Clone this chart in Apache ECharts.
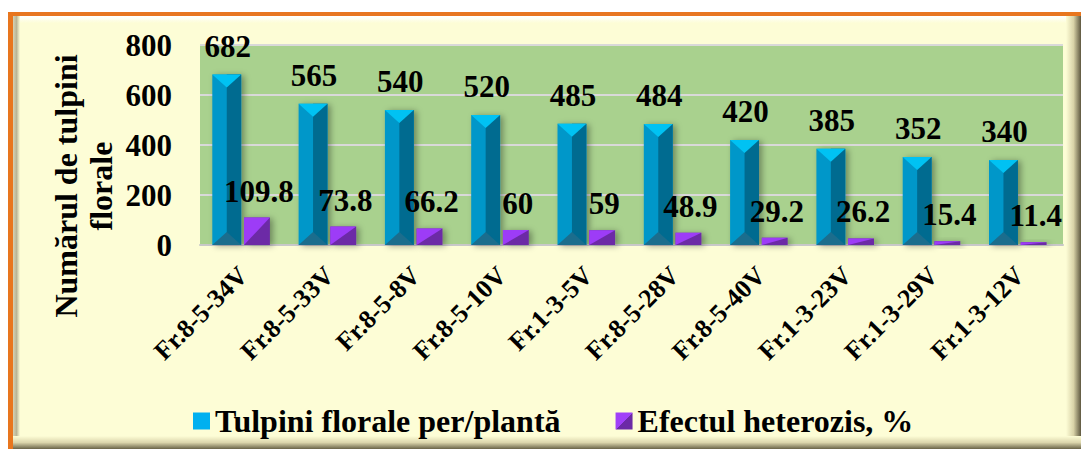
<!DOCTYPE html>
<html><head><meta charset="utf-8">
<script src="https://cdn.jsdelivr.net/npm/echarts@6/dist/echarts.min.js"></script>
<style>html,body{margin:0;padding:0;background:#fff}#c{width:1081px;height:449px}</style>
</head><body><div id="c"></div>
<script>
const categories = ['Fr.8-5-34V','Fr.8-5-33V','Fr.8-5-8V','Fr.8-5-10V','Fr.1-3-5V','Fr.8-5-28V','Fr.8-5-40V','Fr.1-3-23V','Fr.1-3-29V','Fr.1-3-12V'];
const tulpiniValues = [682,565,540,520,485,484,420,385,352,340];
const heterozisValues = [109.8,73.8,66.2,60,59,48.9,29.2,26.2,15.4,11.4];
const seriesNames = ['Tulpini florale per/plantă','Efectul heterozis, %'];
const yAxisTitle = 'Numărul de tulpini\nflorale';
const yMin = 0, yMax = 800, yStep = 200;

const FONT = '"Liberation Serif", "Times New Roman", serif';

function barItem(kind){
  return function(params, api){
    const idx = api.value(0), val = api.value(1);
    const top = api.coord([idx, val]);
    const base = api.coord([idx, 0]);
    const bw = api.size([1, 0])[0];
    let w, cx;
    if (kind === 'blue'){ w = bw*0.335; cx = top[0] - bw*0.19; }
    else { w = bw*0.30; cx = top[0] + bw*0.16; }
    const x0 = cx - w/2, x1 = cx + w/2, y0 = top[1], y1 = base[1];
    const h = y1 - y0;
    const children = [];
    if (kind === 'blue'){
      const tri = Math.min(w*0.45, h/2);
      children.push(
        {type:'rect', shape:{x:x0,y:y0,width:w,height:h}, style:{fill:'#0097c9', shadowBlur:6, shadowOffsetX:3, shadowOffsetY:1, shadowColor:'rgba(0,0,0,0.35)'}},
        {type:'rect', shape:{x:cx,y:y0,width:w/2,height:h}, style:{fill:'#006b90'}},
        {type:'polygon', shape:{points:[[x0,y0],[x1,y0],[cx,y0+tri]]}, style:{fill:'#00c2f3'}},
        {type:'polygon', shape:{points:[[x0,y1],[x1,y1],[cx,y1-tri]]}, style:{fill:'#1b6d8d'}},
        {type:'text', x: cx + 1, y: y0 - 13, style:{text:String(val), fill:'#000', font:'bold 31px ' + FONT, align:'center', verticalAlign:'bottom'}}
      );
    } else {
      children.push(
        {type:'rect', shape:{x:x0,y:y0,width:w,height:h}, style:{fill:'#6c2aa6', shadowBlur:6, shadowOffsetX:3, shadowOffsetY:1, shadowColor:'rgba(0,0,0,0.35)'}},
        {type:'polygon', shape:{points:[[x0,y0],[x1,y0],[x0,y1]]}, style:{fill:'#9d3cf7'}},
        {type:'text', x: cx + 2, y: y0 - 11, style:{text:String(val), fill:'#000', font:'bold 31px ' + FONT, align:'center', verticalAlign:'bottom'}}
      );
    }
    return {type:'group', children};
  };
}

const chart = echarts.init(document.getElementById('c'), null, {renderer:'svg'});
chart.setOption({
  backgroundColor:'#ffffff',
  animation:false,
  graphic:[
    {type:'rect', z:-100, shape:{x:8,y:12,width:1073,height:437}, style:{fill:'#e8761e'}},
    {type:'rect', z:-99, shape:{x:13,y:16,width:1068,height:433}, style:{fill:'#fdfdd6'}},
    {type:'rect', z:-98, shape:{x:13,y:16,width:1068,height:7}, style:{fill:new echarts.graphic.LinearGradient(0,0,0,1,[{offset:0,color:'#ffffff'},{offset:1,color:'#fdfdd6'}])}},
    {type:'rect', z:-98, shape:{x:13,y:16,width:7,height:433}, style:{fill:new echarts.graphic.LinearGradient(0,0,1,0,[{offset:0,color:'#d6d2b4'},{offset:0.5,color:'#b9b596'},{offset:1,color:'#fdfdd6'}])}},
    {type:'rect', z:-97, shape:{x:1066,y:16,width:15,height:433}, style:{fill:new echarts.graphic.LinearGradient(0,0,1,0,[{offset:0,color:'#fdfdd6'},{offset:0.5,color:'#d9d3a8'},{offset:1,color:'#5e5840'}])}},
    {type:'rect', z:-96, shape:{x:13,y:436,width:1068,height:13}, style:{fill:new echarts.graphic.LinearGradient(0,0,0,1,[{offset:0,color:'#fdfdd6'},{offset:0.5,color:'#dcd6ac'},{offset:1,color:'#6a6448'}])}},
    {type:'text', z:10, x:83, y:186, rotation:Math.PI/2, style:{text:yAxisTitle, font:'bold 32px ' + FONT, align:'center', verticalAlign:'middle', lineHeight:35, fill:'#000'}}
  ],
  grid:{left:200, right:18, top:45, bottom:204, show:true, backgroundColor:'#a9d18e', borderWidth:0},
  legend:{
    left:188, top:400, itemWidth:17, itemHeight:17, itemGap:55,
    textStyle:{fontFamily:FONT, fontWeight:'bold', fontSize:32, color:'#000'},
    data:[{name:seriesNames[0], icon:'rect'}, {name:seriesNames[1], icon:'rect'}]
  },
  xAxis:{
    type:'category', data:categories,
    axisTick:{show:false},
    axisLine:{lineStyle:{color:'#c8c8c8', width:2}},
    axisLabel:{interval:0, rotate:45, margin:26, fontFamily:FONT, fontWeight:'bold', fontSize:26, color:'#000'}
  },
  yAxis:{
    type:'value', min:yMin, max:yMax, interval:yStep,
    axisLine:{show:false}, axisTick:{show:false},
    splitLine:{lineStyle:{color:'#d9d9d9', width:2}},
    axisLabel:{margin:28, fontFamily:FONT, fontWeight:'bold', fontSize:31, color:'#000'}
  },
  series:[
    {name:seriesNames[0], type:'custom', renderItem:barItem('blue'), encode:{x:0,y:1},
     itemStyle:{color:'#00b0f0'},
     data:tulpiniValues.map((v,i)=>[i,v])},
    {name:seriesNames[1], type:'custom', renderItem:barItem('purple'), encode:{x:0,y:1},
     itemStyle:{color:new echarts.graphic.LinearGradient(0,0,1,1,[{offset:0,color:'#a040f8'},{offset:0.5,color:'#a040f8'},{offset:0.5,color:'#6c2aa6'},{offset:1,color:'#6c2aa6'}])},
     data:heterozisValues.map((v,i)=>[i,v])}
  ]
});
</script></body></html>
